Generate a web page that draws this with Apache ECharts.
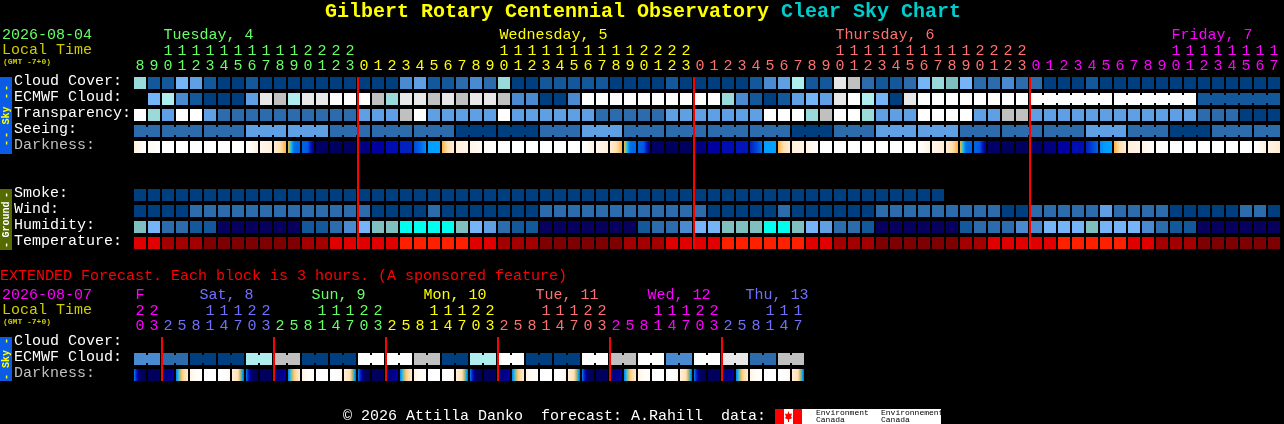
<!DOCTYPE html>
<html><head><meta charset="utf-8">
<style>html,body{margin:0;padding:0;background:#000}#c{width:1284px;height:424px}</style>
<script src="https://cdn.jsdelivr.net/npm/echarts@6/dist/echarts.min.js"></script>
</head><body><div id="c"></div>
<script>
const FONT = '"Liberation Mono","DejaVu Sans Mono",monospace';
// ---------- colour scales ----------
const skyPalette = ['#003f7f','#13589a','#2c6cad','#4a8ad0','#5f9fe3','#76b4f8','#80bfbf','#9adada','#afeeee','#c0c0c0','#e8e8e8','#ffffff'];
const humidityPalette = ['#08005f','#13589a','#2c6cad','#4a8ad0','#5f9fe3','#76b4f8','#80bfbf','#00ffee'];
const tempPalette = ['#7f0000','#a50000','#e00000','#ff2000'];
const darkPalette = ['#000050','#000080','#0000a8','#0020c0','#0064e6','#00a0ff','#40d0c0','#ffb040','#ffdcaa','#fff0dc','#ffffff'];
const dayColors = {green:'#66ff66',yellow:'#ffff00',salmon:'#ff7070',magenta:'#ff00ff',peri:'#7070ff'};
// ---------- main forecast ----------
const mainHours = [8,9,10,11,12,13,14,15,16,17,18,19,20,21,22,23,0,1,2,3,4,5,6,7,8,9,10,11,12,13,14,15,16,17,18,19,20,21,22,23,0,1,2,3,4,5,6,7,8,9,10,11,12,13,14,15,16,17,18,19,20,21,22,23,0,1,2,3,4,5,6,7,8,9,10,11,12,13,14,15,16,17];
const mainRowLabels = ['Cloud Cover:','ECMWF Cloud:','Transparency:','Seeing:','Darkness:','','','Smoke:','Wind:','Humidity:','Temperature:'];
const mainDayNames = ['Tuesday, 4','Wednesday, 5','Thursday, 6','Friday, 7'];
const mainDayCols = [2,26,50,74];
const mainDayColors = ['green','yellow','salmon','magenta'];
const mainDayBreaks = [0,16,40,64];
const mainMidnights = [16,40,64];
const cloudCover = [7,1,1,5,4,1,0,0,1,0,0,0,0,0,0,0,0,0,0,3,4,1,1,2,3,2,7,0,0,1,1,1,1,1,0,0,0,0,1,0,0,0,0,0,1,3,4,8,1,1,10,9,2,1,1,2,5,7,6,5,2,2,3,2,2,0,0,0,1,0,0,0,0,0,0,0,0,0,0,0,0,0];
const ecmwfCloud = [null,5,8,3,1,0,0,0,4,10,9,8,10,10,11,11,11,9,7,10,10,9,10,9,10,10,9,3,3,0,0,3,11,11,11,11,11,11,11,11,11,11,7,3,1,0,1,4,5,4,10,11,8,5,0,10,11,11,11,11,11,11,11,11,11,11,11,11,11,11,11,11,11,11,11,11,1,1,1,1,1,1];
const ecmwfLinkedFrom = 64, ecmwfBlocks = [6,6,6];
const transparency = [11,7,4,11,11,4,2,2,2,2,2,2,2,2,2,2,4,4,4,9,11,4,4,4,4,4,11,4,4,4,4,4,4,2,2,2,2,2,4,4,4,4,4,4,4,11,11,11,7,9,11,11,7,4,4,4,11,11,11,11,4,4,9,9,4,4,4,4,4,4,4,4,4,4,4,4,2,2,2,0,0,0];
const seeing = [2,2,2,2,2,2,2,2,4,4,4,4,4,4,2,2,2,2,2,2,2,2,2,0,0,0,0,0,0,2,2,2,4,4,4,2,2,2,2,2,2,2,2,2,2,2,2,0,0,0,2,2,2,4,4,4,4,4,4,2,2,2,2,2,2,2,2,2,4,4,4,2,2,2,0,0,0,2,2,2,2,2];
const seeingBlocks = [2,3,3,3,3,3,3,3,3,3,3,3,3,3,3,3,3,3,3,3,3,3,3,3,3,3,3,2];
const W=[10,10,10], N=[.3,.3,.3];
const darkness = [
 [9,9.6,10],[9.6,9.8,10],W,W,W,W,W,W,
 [10,9.7,9],[9.5,9.2,9],[8.8,8.2,7],[7,4.2,4],[4,3.8,1.5],[.6,.5,.4],N,N,
 [1,1,1],[1.8,1.8,1.8],[2.4,2.4,2.4],[3,3,3],[3.6,4,4.7],[5,5,5],[7,8.2,8.8],[9,9.1,9.3],
 [9.3,9.5,9.7],[9.7,9.9,10],W,W,W,W,W,W,
 [10,9.7,9],[9.5,9.2,9],[8.8,8.2,7],[7,4.2,4],[4,3.8,1.5],[.5,.5,.5],N,N,
 [1,1,1],[1.8,1.8,1.8],[2.4,2.4,2.4],[2.7,2.7,2.7],[3,3.5,4.2],[5,5,5],[7,8.2,8.8],[9,9.1,9.3],
 [9.3,9.6,10],W,W,W,W,W,W,W,
 [10,9.7,9],[9.5,9.2,8.8],[8.8,8.2,7],[7,4.2,4],[4,3.8,1.5],[.5,.5,.5],N,N,
 [.6,.6,.6],[1,1,1],[1.8,1.8,1.8],[2.4,2.4,2.4],[3,3.5,4],[4.6,5,5],[7,8.2,8.8],[9,9.1,9.3],
 [9.3,9.6,9.8],[9.8,9.9,10],W,W,W,W,W,W,
 [10,9.6,9],[9.2,9,8.7]
];
const smoke = [0,0,0,0,0,0,0,0,0,0,0,0,0,0,0,0,0,0,0,0,0,0,0,0,0,0,0,0,0,0,0,0,0,0,0,0,0,0,0,0,0,0,0,0,0,0,0,0,0,0,0,0,0,0,0,0,0,0];
const wind = [0,0,0,0,2,2,2,2,2,2,2,2,2,2,2,2,2,0,0,0,0,2,0,0,0,0,0,0,0,2,2,2,2,2,2,2,2,2,2,2,2,0,0,0,0,0,2,0,0,0,0,0,0,2,2,2,2,2,2,2,2,2,0,0,2,2,2,2,2,4,2,2,2,2,0,0,0,0,0,2,2,0];
const humidity = [6,5,2,2,1,1,0,0,0,0,0,0,1,1,2,3,5,6,6,7,7,7,7,6,5,4,2,1,1,0,0,0,0,0,0,0,1,2,2,3,5,5,6,6,6,7,7,6,5,4,2,2,1,0,0,0,0,0,0,1,2,2,2,3,3,5,5,5,6,5,5,5,3,2,1,1,0,0,0,0,0,0];
const temperature = [2,2,1,1,1,0,0,0,0,0,0,0,1,1,2,2,2,2,2,3,3,3,3,3,2,2,1,1,1,0,0,0,0,0,0,1,1,1,2,2,2,2,3,3,3,3,3,3,2,2,1,1,1,0,0,0,0,0,0,1,1,2,2,2,2,2,3,3,3,3,3,2,2,1,1,1,0,0,0,0,0,0];
// ---------- extended forecast ----------
const extHours = [20,23,2,5,8,11,14,17,20,23,2,5,8,11,14,17,20,23,2,5,8,11,14,17,20,23,2,5,8,11,14,17,20,23,2,5,8,11,14,17,20,23,2,5,8,11,14,17];
const extRowLabels = ['Cloud Cover:','ECMWF Cloud:','Darkness:'];
const extDayNames = ['F','Sat, 8','Sun, 9','Mon, 10','Tue, 11','Wed, 12','Thu, 13'];
const extDayCols = [0,5,13,21,29,37,44];
const extDayColors = ['magenta','peri','green','yellow','salmon','magenta','peri'];
const extDayBreaks = [0,2,10,18,26,34,42];
const extMidnights = [2,10,18,26,34,42];
const extEcmwf = [3,3,2,2,0,0,0,0,8,8,9,9,0,0,0,0,11,11,11,11,9,9,0,0,8,8,11,11,0,0,0,0,11,11,9,9,11,11,3,3,11,11,10,10,2,2,9,9];
const extEcmwfBlocks = [2,2,2,2,2,2,2,2,2,2,2,2,2,2,2,2,2,2,2,2,2,2,2,2];
const D0=[4.5,.4,.2],D1=[.8,1.2,2],D2=[4.5,7.5,8.8],D3=[9.3,9.8,10],D4=[10,10,9.5],D5=[9,8.2,4];
const extDarkness = [D0,N,D1,D2,D3,W,D4,D5,D0,N,D1,D2,D3,W,D4,D5,D0,N,D1,D2,D3,W,D4,D5,D0,N,D1,D2,D3,W,D4,D5,D0,N,D1,D2,D3,W,D4,D5,D0,N,D1,D2,D3,W,D4,D5];
// ---------- text ----------
const titleMain = 'Gilbert Rotary Centennial Observatory ';
const titleLink = 'Clear Sky Chart';
const extTitle = 'EXTENDED Forecast. Each block is 3 hours. (A sponsored feature)';
const footer = '\u00a9 2026 Attilla Danko  forecast: A.Rahill  data:';

// ---------- helpers ----------
function blocksToLinks(blocks,from){ const links={}; let c=from||0; blocks.forEach(n=>{ for(let k=0;k<n-1;k++) links[c+k]=1; c+=n; }); return links; }
function hex(c){return [1,3,5].map(i=>parseInt(c.substr(i,2),16));}
function darkColor(v){ const i=Math.min(Math.floor(v),darkPalette.length-2), t=v-i; const a=hex(darkPalette[i]),b=hex(darkPalette[i+1]); return 'rgb('+a.map((x,k)=>Math.round(x+(b[k]-x)*t)).join(',')+')'; }
function cells(ax,row,values,palette,links){
  return {type:'custom',xAxisIndex:ax,yAxisIndex:ax?1:0,encode:{x:0,y:1},silent:true,z:2,animation:false,
    data:values.map((v,i)=>[i,row,v,links&&links[i]?1:0]).filter(d=>d[2]!==null),
    renderItem:(p,api)=>{
      const c=api.coord([api.value(0),api.value(1)]), s=api.size([1,1]);
      const x=c[0]-s[0]/2+1,y=c[1]-s[1]/2+2,fill=palette[api.value(2)];
      const children=[{type:'rect',shape:{x,y,width:12,height:12},style:{fill}}];
      if(api.value(3)) children.push({type:'rect',shape:{x:x+12,y:y+2,width:2,height:8},style:{fill}});
      return {type:'group',children};
    }};
}
function darkCells(ax,row,triples){
  return {type:'custom',xAxisIndex:ax,yAxisIndex:ax?1:0,encode:{x:0,y:1},silent:true,z:2,animation:false,
    data:triples.map((t,i)=>[i,row,t[0],t[1],t[2]]),
    renderItem:(p,api)=>{
      const c=api.coord([api.value(0),api.value(1)]), s=api.size([1,1]);
      const a=api.value(2),m=api.value(3),b=api.value(4),stops=[];
      for(let k=0;k<=6;k++){ const f=k/6, v=f<=.5? a+(m-a)*f*2 : m+(b-m)*(f-.5)*2; stops.push({offset:f,color:darkColor(v)}); }
      return {type:'rect',shape:{x:c[0]-s[0]/2+1,y:c[1]-s[1]/2+2,width:12,height:12},
        style:{fill:new echarts.graphic.LinearGradient(0,0,1,0,stops)}};
    }};
}
function midnightLines(ax,cols,rows){
  return {type:'custom',xAxisIndex:ax,yAxisIndex:ax?1:0,encode:{x:0,y:1},silent:true,z:5,animation:false,
    data:cols.map(c=>[c,0]),
    renderItem:(p,api)=>{
      const c=api.coord([api.value(0),0]), s=api.size([1,1]);
      const top=c[1]-s[1]/2+2;
      return {type:'rect',shape:{x:c[0]-s[0]/2,y:top,width:2,height:rows*s[1]-4},style:{fill:'#ff0000'}};
    }};
}
function dayHeaders(ax,names,cols,colors){
  return {type:'custom',xAxisIndex:ax,yAxisIndex:ax?1:0,encode:{x:0,y:1},silent:true,z:3,animation:false,
    data:cols.map((c,i)=>[c,0,i]),
    renderItem:(p,api)=>{
      const col=api.value(0),i=api.value(2),c=api.coord([col,0]);
      const dx=(ax===0||col===0)?-4.5:-10.5;
      return {type:'text',x:c[0]+dx,y:c[1]-48,
        style:{text:names[i],fill:dayColors[colors[i]],font:'15px '+FONT,verticalAlign:'middle',align:'left'}};
    }};
}
function colorByBreaks(breaks,colors){return (v,i)=>{let n=0;breaks.forEach((b,k)=>{if(i>=b)n=k;});return dayColors[colors[n]];};}
function xAx(grid,hours,offset,fmt,color){
  return {type:'category',gridIndex:grid,position:'top',offset,data:hours.map(String),boundaryGap:true,
    axisLine:{show:false},axisTick:{show:false},splitLine:{show:false},
    axisLabel:{interval:0,margin:1,fontFamily:FONT,fontSize:15,color,formatter:fmt}};
}
function yAx(grid,labels){
  return {type:'category',gridIndex:grid,inverse:true,data:labels,
    axisLine:{show:false},axisTick:{show:false},splitLine:{show:false},
    axisLabel:{interval:0,margin:119,align:'left',verticalAlign:'bottom',lineHeight:3,fontFamily:FONT,fontSize:15,
      color:v=>v==='Darkness:'?'#c0c0c0':'#ffffff'}};
}
const ones=v=>String(+v%10), tens=v=>+v>=10?String(v)[0]:'';
const mainColor=colorByBreaks(mainDayBreaks,mainDayColors), extColor=colorByBreaks(extDayBreaks,extDayColors);
function txt(x,y,text,fill,size,extra){return Object.assign({type:'text',x,y,silent:true,style:{text,fill,font:(extra&&extra.weight?extra.weight+' ':'')+size+'px '+FONT,verticalAlign:'middle',align:(extra&&extra.align)||'left'}},extra&&extra.rotation?{rotation:extra.rotation}:{});}
function bar(x,y,w,h,fill){return {type:'rect',shape:{x,y,width:w,height:h},style:{fill},silent:true};}
const vert={rotation:Math.PI/2,align:'center',weight:'bold'};

const option={
  backgroundColor:'#000',animation:false,
  title:[{left:320,top:-3,text:'{a|'+titleMain+'}{b|'+titleLink+'}',
    textStyle:{rich:{a:{color:'#ffff00',fontFamily:FONT,fontSize:20,fontWeight:'bold'},b:{color:'#00cccc',fontFamily:FONT,fontSize:20,fontWeight:'bold'}}}},
    {left:-5,top:264,text:extTitle,textStyle:{color:'#ff0000',fontFamily:FONT,fontSize:15,fontWeight:'normal'}}],
  grid:[{left:133,top:75,width:14*82,height:16*11},{left:133,top:335,width:14*48,height:48}],
  xAxis:[xAx(0,mainHours,0,ones,mainColor),xAx(1,extHours,0,ones,extColor),xAx(0,mainHours,15,tens,mainColor),xAx(1,extHours,15,tens,extColor)],
  yAxis:[yAx(0,mainRowLabels),yAx(1,extRowLabels)],
  series:[
    cells(0,0,cloudCover,skyPalette),
    cells(0,1,ecmwfCloud,skyPalette,blocksToLinks(ecmwfBlocks,ecmwfLinkedFrom)),
    cells(0,2,transparency,skyPalette),
    cells(0,3,seeing,skyPalette,blocksToLinks(seeingBlocks)),
    darkCells(0,4,darkness),
    cells(0,7,smoke,skyPalette),
    cells(0,8,wind,skyPalette),
    cells(0,9,humidity,humidityPalette),
    cells(0,10,temperature,tempPalette),
    midnightLines(0,mainMidnights,11),
    dayHeaders(0,mainDayNames,mainDayCols,mainDayColors),
    cells(1,1,extEcmwf,skyPalette,blocksToLinks(extEcmwfBlocks)),
    darkCells(1,2,extDarkness),
    midnightLines(1,extMidnights,3),
    dayHeaders(1,extDayNames,extDayCols,extDayColors)
  ],
  graphic:[
    txt(2,35,'2026-08-04',dayColors.green,15),
    txt(2,50,'Local Time','#cccc00',15),
    txt(3,62,'(GMT -7+0)','#cccc00',8,{weight:'bold'}),
    txt(2,295,'2026-08-07',dayColors.magenta,15),
    txt(2,310,'Local Time','#cccc00',15),
    txt(3,322,'(GMT -7+0)','#cccc00',8,{weight:'bold'}),
    bar(0,77,12,77,'#0a5ce6'),
    txt(6,88,'-','#ffff00',10,vert),txt(6,96,'-','#ffff00',10,vert),
    txt(6,115.5,'Sky','#ffff00',10,vert),
    txt(6,135,'-','#ffff00',10,vert),txt(6,143,'-','#ffff00',10,vert),
    bar(0,189,12,61,'#556b00'),
    txt(6,195,'-','#ffffff',10,vert),
    txt(6,219.5,'Ground','#ffffff',10,vert),
    txt(6,245,'-','#ffffff',10,vert),
    bar(0,337,12,44,'#0a5ce6'),
    txt(6,341,'-','#ffff00',10,vert),
    txt(6,359,'Sky','#ffff00',10,vert),
    txt(6,377,'-','#ffff00',10,vert),
    txt(343,416,footer,'#ffffff',15),
    bar(775,409,27,15,'#ff0000'),
    bar(784,409,9,15,'#ffffff'),
    {type:'polygon',silent:true,shape:{points:[[788.5,411],[789.5,414],[792,413.5],[791,417],[792.5,418],[789,419.5],[789,422],[788,422],[788,419.5],[784.5,418],[786,417],[785,413.5],[787.5,414]]},style:{fill:'#ff0000'}},
    bar(802,409,139,15,'#ffffff'),
    txt(816,413,'Environment','#000000',8),
    txt(816,420,'Canada','#000000',8),
    txt(881,413,'Environnement','#000000',8),
    txt(881,420,'Canada','#000000',8)
  ]
};
echarts.init(document.getElementById('c'),null,{renderer:'canvas'}).setOption(option);
</script></body></html>
